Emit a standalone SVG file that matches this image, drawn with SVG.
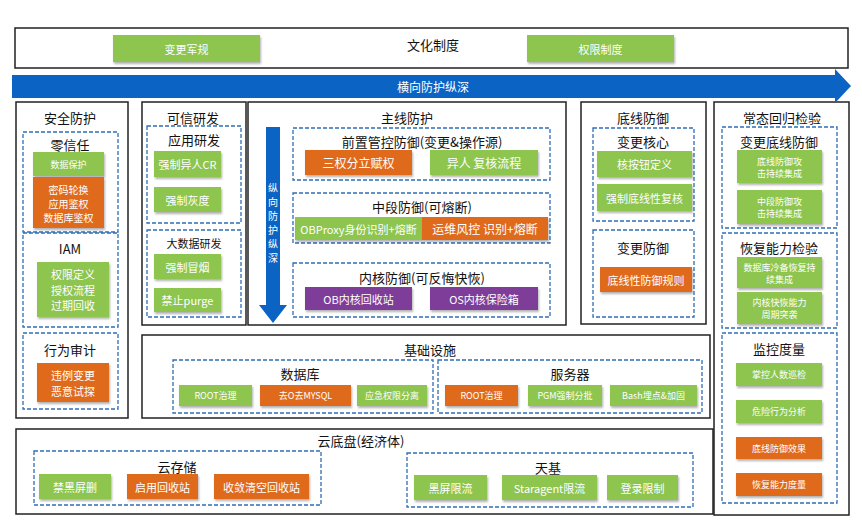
<svg xmlns="http://www.w3.org/2000/svg" width="862" height="526" viewBox="0 0 862 526">
<defs>
<filter id="sh" x="-10%" y="-20%" width="130%" height="170%"><feDropShadow dx="1" dy="2" stdDeviation="1" flood-color="#000" flood-opacity="0.3"/></filter>
<style>
text{font-family:"Noto Sans CJK SC","Noto Sans",sans-serif;text-anchor:middle;dominant-baseline:central}
.panel{fill:#fff;stroke:#222;stroke-width:1.5}
.dash{fill:none;stroke:#2E6DB4;stroke-width:1.3;stroke-dasharray:4 2}
.g{fill:#8DC54F;filter:url(#sh)}
.o{fill:#E06A1B;filter:url(#sh)}
.p{fill:#7D3C98;filter:url(#sh)}
.t{fill:#111;font-size:13px}
.ts{fill:#111;font-size:11px}
.b{fill:#fff;font-size:11px}
.bs{fill:#fff;font-size:9px}
.bl{fill:#fff;font-size:12px}
.bm{fill:#fff;font-size:10px}
.arrow{fill:#0B63C4}
</style>
</defs>
<rect width="862" height="526" fill="#fff"/>

<g id="culture">
<rect class="panel" x="15" y="28" width="833" height="40"/>
<text class="t" x="433" y="44">文化制度</text>
<rect class="g" x="113" y="35" width="147" height="27"/>
<text class="b" x="186.5" y="48.5">变更军规</text>
<rect class="g" x="527" y="35" width="147" height="27"/>
<text class="b" x="600.5" y="48.5">权限制度</text>
</g>

<g id="security">
<rect class="panel" x="16" y="102" width="112" height="316"/>
<text class="t" x="70" y="117">安全防护</text>
<g id="zerotrust">
<rect class="dash" x="23" y="132" width="95" height="100"/>
<text class="t" x="70" y="144">零信任</text>
<rect class="g" x="33" y="152" width="71" height="24"/>
<text class="bs" x="68.5" y="164">数据保护</text>
<rect class="o" x="33" y="177" width="71" height="51"/>
<text class="bm" y="188.5"><tspan x="68.5">密码轮换</tspan><tspan x="68.5" dy="14">应用鉴权</tspan><tspan x="68.5" dy="14">数据库鉴权</tspan></text>
</g>
<g id="iam">
<rect class="dash" x="23" y="233" width="95" height="94"/>
<text class="t" x="70" y="248">IAM</text>
<rect class="g" x="37" y="262" width="72" height="55"/>
<text class="b" y="274"><tspan x="73">权限定义</tspan><tspan x="73" dy="15.5">授权流程</tspan><tspan x="73" dy="15.5">过期回收</tspan></text>
</g>
<g id="audit">
<rect class="dash" x="23" y="333" width="95" height="76"/>
<text class="t" x="70" y="349">行为审计</text>
<rect class="o" x="37" y="363" width="72" height="39"/>
<text class="b" y="375"><tspan x="73">违例变更</tspan><tspan x="73" dy="15.5">恶意试探</tspan></text>
</g>
</g>

<g id="trusted-dev">
<rect class="panel" x="142" y="102" width="104" height="223"/>
<text class="t" x="193" y="117">可信研发</text>
<g id="app-dev">
<rect class="dash" x="147" y="126" width="94" height="97"/>
<text class="t" x="194" y="139">应用研发</text>
<rect class="g" x="154" y="151" width="67" height="26"/>
<text class="b" x="187.5" y="164">强制异人CR</text>
<rect class="g" x="154" y="187" width="67" height="25"/>
<text class="b" x="187.5" y="199.5">强制灰度</text>
</g>
<g id="bigdata-dev">
<rect class="dash" x="147" y="230" width="94" height="87"/>
<text class="ts" x="194" y="243">大数据研发</text>
<rect class="g" x="154" y="254" width="67" height="25"/>
<text class="b" x="187.5" y="266.5">强制冒烟</text>
<rect class="g" x="154" y="288" width="67" height="24"/>
<text class="b" x="187.5" y="300">禁止purge</text>
</g>
</g>

<g id="mainline">
<rect class="panel" x="248" y="102" width="318" height="223"/>
<text class="t" x="407" y="117">主线防护</text>
<g id="front">
<rect class="dash" x="293" y="128" width="257" height="52"/>
<text class="t" x="422" y="141">前置管控防御(变更&amp;操作源)</text>
<rect class="o" x="305" y="150" width="107" height="25"/>
<text class="bl" x="358.5" y="162.5">三权分立赋权</text>
<rect class="g" x="430" y="150" width="108" height="25"/>
<text class="bl" x="484" y="162.5">异人 复核流程</text>
</g>
<g id="middle">
<rect class="dash" x="293" y="193" width="257" height="50"/>
<text class="t" x="422" y="206">中段防御(可熔断)</text>
<rect class="g" x="295" y="217" width="127" height="23"/>
<text class="b" x="358.5" y="228.5" font-size="10.5">OBProxy身份识别+熔断</text>
<rect class="o" x="422" y="217" width="126" height="23"/>
<text class="bl" x="485" y="228.5">运维风控 识别+熔断</text>
</g>
<g id="kernel">
<rect class="dash" x="293" y="263" width="257" height="54"/>
<text class="t" x="422" y="277">内核防御(可反悔快恢)</text>
<rect class="p" x="305" y="287" width="107" height="23"/>
<text class="b" x="358.5" y="298.5">OB内核回收站</text>
<rect class="p" x="430" y="287" width="108" height="23"/>
<text class="b" x="484" y="298.5">OS内核保险箱</text>
</g>
</g>

<g id="baseline">
<rect class="panel" x="581" y="102" width="125" height="222"/>
<text class="t" x="643" y="117">底线防御</text>
<g id="change-core">
<rect class="dash" x="593" y="128" width="101" height="93"/>
<text class="t" x="643" y="141">变更核心</text>
<rect class="g" x="597" y="151" width="95" height="26"/>
<text class="b" x="644.5" y="164">核按钮定义</text>
<rect class="g" x="597" y="184" width="95" height="27"/>
<text class="b" x="644.5" y="197.5">强制底线性复核</text>
</g>
<g id="change-defense">
<rect class="dash" x="593" y="230" width="101" height="87"/>
<text class="t" x="643" y="247">变更防御</text>
<rect class="o" x="600" y="267" width="92" height="25"/>
<text class="b" x="646" y="279.5">底线性防御规则</text>
</g>
</g>

<g id="regression">
<rect class="panel" x="714" y="102" width="135" height="413"/>
<text class="t" x="782" y="117">常态回归检验</text>
<g id="change-baseline">
<rect class="dash" x="722" y="127" width="115" height="101"/>
<text class="t" x="779" y="141">变更底线防御</text>
<rect class="g" x="737" y="150" width="85" height="33"/>
<text class="bs" y="160.5"><tspan x="779.5">底线防御攻</tspan><tspan x="779.5" dy="12.5">击持续集成</tspan></text>
<rect class="g" x="737" y="190" width="85" height="34"/>
<text class="bs" y="200.5"><tspan x="779.5">中段防御攻</tspan><tspan x="779.5" dy="12.5">击持续集成</tspan></text>
</g>
<g id="recovery">
<rect class="dash" x="722" y="233" width="115" height="95"/>
<text class="t" x="779" y="247">恢复能力检验</text>
<rect class="g" x="737" y="257" width="85" height="31"/>
<text class="bs" y="266.5"><tspan x="779.5">数据库冷备恢复持</tspan><tspan x="779.5" dy="12.5">续集成</tspan></text>
<rect class="g" x="737" y="292" width="85" height="32"/>
<text class="bs" y="301.5"><tspan x="779.5">内核快恢能力</tspan><tspan x="779.5" dy="12.5">周期突袭</tspan></text>
</g>
<g id="monitor">
<rect class="dash" x="722" y="333" width="115" height="170"/>
<text class="t" x="779" y="348">监控度量</text>
<rect class="g" x="736" y="363" width="86" height="23"/>
<text class="bs" x="779" y="374.5">掌控人数巡检</text>
<rect class="g" x="736" y="400" width="86" height="23"/>
<text class="bs" x="779" y="411.5">危险行为分析</text>
<rect class="o" x="736" y="437" width="86" height="22"/>
<text class="bs" x="779" y="448">底线防御效果</text>
<rect class="o" x="736" y="473" width="86" height="23"/>
<text class="bs" x="779" y="484.5">恢复能力度量</text>
</g>
</g>

<g id="infra">
<rect class="panel" x="142" y="335" width="568" height="83"/>
<text class="t" x="430" y="349">基础设施</text>
<g id="database">
<rect class="dash" x="173" y="360" width="260" height="53"/>
<text class="t" x="300" y="373">数据库</text>
<rect class="g" x="179" y="385" width="73" height="21"/>
<text class="bs" x="215.5" y="395.5">ROOT治理</text>
<rect class="o" x="260" y="385" width="91" height="21"/>
<text class="bs" x="305.5" y="395.5">去O去MYSQL</text>
<rect class="g" x="357" y="385" width="70" height="21"/>
<text class="bs" x="392" y="395.5">应急权限分离</text>
</g>
<g id="server">
<rect class="dash" x="438" y="360" width="264" height="53"/>
<text class="t" x="570" y="373">服务器</text>
<rect class="o" x="445" y="385" width="73" height="21"/>
<text class="bs" x="481.5" y="395.5">ROOT治理</text>
<rect class="g" x="528" y="385" width="74" height="21"/>
<text class="bs" x="565" y="395.5">PGM强制分批</text>
<rect class="g" x="610" y="385" width="87" height="21"/>
<text class="bs" x="653.5" y="395.5">Bash埋点&amp;加固</text>
</g>
</g>

<g id="cloud">
<rect class="panel" x="16" y="429" width="697" height="85"/>
<text class="t" x="361" y="440">云底盘(经济体)</text>
<g id="storage">
<rect class="dash" x="34" y="451" width="287" height="54"/>
<text class="t" x="177" y="466">云存储</text>
<rect class="g" x="39" y="474" width="72" height="25"/>
<text class="b" x="75" y="486.5">禁黑屏删</text>
<rect class="o" x="127" y="474" width="71" height="25"/>
<text class="b" x="162.5" y="486.5">启用回收站</text>
<rect class="o" x="214" y="474" width="95" height="25"/>
<text class="b" x="261.5" y="486.5">收敛清空回收站</text>
</g>
<g id="tianji">
<rect class="dash" x="407" y="453" width="286" height="54"/>
<text class="t" x="548" y="467">天基</text>
<rect class="g" x="414" y="475" width="73" height="25"/>
<text class="b" x="450.5" y="487.5">黑屏限流</text>
<rect class="g" x="502" y="475" width="95" height="25"/>
<text class="b" x="549.5" y="487.5">Staragent限流</text>
<rect class="g" x="607" y="475" width="71" height="25"/>
<text class="b" x="642.5" y="487.5">登录限制</text>
</g>
</g>

<g id="connectors">
<polygon class="arrow" points="12,75 835,75 835,69 851,86 835,103 835,98 12,98"/>
<text x="433" y="86.5" fill="#fff" font-size="12">横向防护纵深</text>
<polygon class="arrow" points="266,127 280,127 280,305 287,305 273,323 259,305 266,305"/>
<text fill="#fff" font-size="10" y="187"><tspan x="273">纵</tspan><tspan x="273" dy="14">向</tspan><tspan x="273" dy="14">防</tspan><tspan x="273" dy="14">护</tspan><tspan x="273" dy="14">纵</tspan><tspan x="273" dy="14">深</tspan></text>
</g>
</svg>
